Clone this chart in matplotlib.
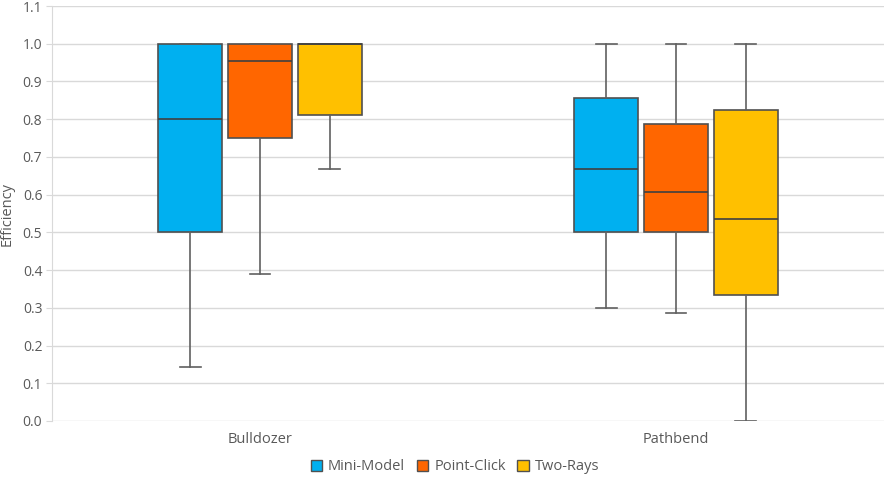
import numpy as np
import matplotlib.pyplot as plt
from matplotlib.patches import Patch

categories = ['Bulldozer', 'Pathbend']
series = ['Mini-Model', 'Point-Click', 'Two-Rays']
colors = ['#00B0F0', '#FF6600', '#FFC000']

# five-number summaries per series: [Bulldozer, Pathbend]
whislo = {'Mini-Model': [0.143, 0.300], 'Point-Click': [0.390, 0.286], 'Two-Rays': [0.667, 0.0]}
q1 = {'Mini-Model': [0.50, 0.50], 'Point-Click': [0.75, 0.50], 'Two-Rays': [0.81, 0.333]}
med = {'Mini-Model': [0.80, 0.667], 'Point-Click': [0.955, 0.607], 'Two-Rays': [1.0, 0.536]}
q3 = {'Mini-Model': [1.0, 0.857], 'Point-Click': [1.0, 0.786], 'Two-Rays': [1.0, 0.825]}
whishi = {'Mini-Model': [1.0, 1.0], 'Point-Click': [1.0, 1.0], 'Two-Rays': [1.0, 1.0]}

yticks = np.arange(0, 1.11, 0.1)
txt = '#595959'
plt.rcParams['font.family'] = ['Open Sans', 'DejaVu Sans']

fig = plt.figure(figsize=(8.86, 4.83), dpi=100)
ax = fig.add_axes([52 / 886, 62 / 483, 832 / 886, 415 / 483])

offsets = [-0.168, 0.0, 0.168]
width = 0.153
for s, col, off in zip(series, colors, offsets):
    stats = []
    for i in range(len(categories)):
        stats.append(dict(whislo=whislo[s][i], q1=q1[s][i], med=med[s][i],
                          q3=q3[s][i], whishi=whishi[s][i], fliers=[]))
    pos = [i + off for i in range(len(categories))]
    ax.bxp(stats, positions=pos, widths=width, patch_artist=True,
           showfliers=False, manage_ticks=False,
           boxprops=dict(facecolor=col, edgecolor='#505050', linewidth=1.2),
           medianprops=dict(color='#404040', linewidth=1.2),
           whiskerprops=dict(color='#606060', linewidth=1.2),
           capprops=dict(color='#606060', linewidth=1.2), capwidths=0.05)

ax.set_xlim(-0.5, 1.5)
ax.set_ylim(0, 1.1)
ax.set_yticks(yticks)
ax.set_yticklabels([f'{v:.1f}' for v in yticks], color=txt, fontsize=10)
ax.set_xticks(range(len(categories)))
ax.set_xticklabels(categories, color=txt, fontsize=10.5)
ax.tick_params(axis='x', length=0, pad=8)
ax.tick_params(axis='y', length=4, color='#d9d9d9', pad=3)
ax.yaxis.grid(True, color='#d9d9d9', linewidth=1)
ax.set_axisbelow(True)
for sp in ['top', 'right', 'bottom']:
    ax.spines[sp].set_visible(False)
ax.spines['left'].set_color('#d9d9d9')
ax.set_ylabel('Efficiency', color=txt, fontsize=10.5, labelpad=6)

handles = [Patch(facecolor=c, edgecolor='#505050', label=s) for s, c in zip(series, colors)]
fig.legend(handles=handles, loc='center', bbox_to_anchor=(455 / 886, 1 - 467 / 483),
           ncol=3, frameon=False, fontsize=10.5, labelcolor=txt,
           handlelength=0.8, handleheight=0.8, handletextpad=0.4, columnspacing=0.8)

fig.savefig('out.png', dpi=100)
